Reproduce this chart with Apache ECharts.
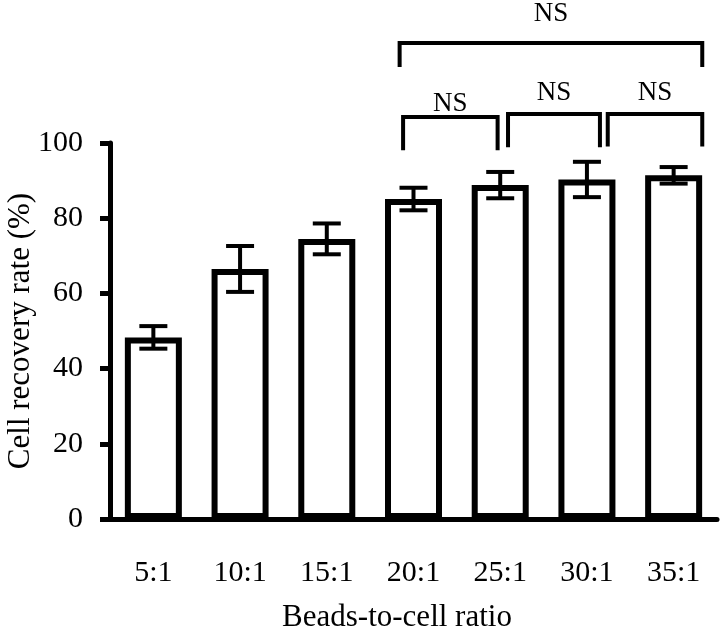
<!DOCTYPE html>
<html><head><meta charset="utf-8">
<script src="https://cdn.jsdelivr.net/npm/echarts@6/dist/echarts.min.js"></script>
<style>html,body{margin:0;padding:0;background:#fff}#c{width:720px;height:628px}</style>
</head><body><div id="c"></div>
<script>
const categories = ['5:1', '10:1', '15:1', '20:1', '25:1', '30:1', '35:1'];
const recoveryMean = [48.3, 66.5, 74.5, 85.1, 88.8, 90.3, 91.4];
const recoveryErr = [3.0, 6.1, 4.1, 3.0, 3.5, 4.7, 2.2];
const yTickValues = [0, 20, 40, 60, 80, 100];
// significance brackets (category index units for from/to, % units for heights)
const bracketFrom = [2.84, 2.88, 4.09, 5.24];
const bracketTo = [6.33, 3.97, 5.15, 6.33];
const bracketTop = [126.6, 106.9, 107.7, 107.7];
const bracketLegEnd = [120.2, 98.1, 98.9, 99.1];
const bracketLabelY = [134.3, 110.5, 113.3, 113.3];
const bracketLabels = ['NS', 'NS', 'NS', 'NS'];

const FONT = 'Liberation Serif, Times New Roman, serif';
const chart = echarts.init(document.getElementById('c'), null, {renderer: 'canvas'});

const errData = categories.map((c, i) => [i, recoveryMean[i] - recoveryErr[i], recoveryMean[i] + recoveryErr[i]]);
const bracketData = bracketFrom.map((f, i) => [i, bracketTop[i]]);

chart.setOption({
  animation: false,
  backgroundColor: '#fff',
  grid: {left: 110, right: 3, top: 143, bottom: 109, containLabel: false, outerBoundsMode: 'none'},
  xAxis: {
    type: 'category',
    data: categories,
    axisLine: {lineStyle: {color: '#000', width: 5}},
    axisTick: {alignWithLabel: true, length: 11, lineStyle: {color: '#000', width: 4}},
    axisLabel: {margin: 39, fontSize: 30, fontFamily: FONT, color: '#000'},
    name: 'Beads-to-cell ratio',
    nameLocation: 'middle',
    nameGap: 83,
    nameMoveOverlap: false,
    nameTextStyle: {fontSize: 31, fontFamily: FONT, color: '#000', padding: [0, 33, 0, 0]}
  },
  yAxis: {
    type: 'value',
    min: yTickValues[0],
    max: yTickValues[yTickValues.length - 1],
    interval: yTickValues[1] - yTickValues[0],
    axisLine: {show: true, lineStyle: {color: '#000', width: 5}},
    axisTick: {show: true, length: 10, lineStyle: {color: '#000', width: 5}},
    splitLine: {show: false},
    axisLabel: {margin: 27, fontSize: 30, fontFamily: FONT, color: '#000'},
    name: 'Cell recovery rate (%)',
    nameLocation: 'middle',
    nameGap: 74,
    nameMoveOverlap: false,
    nameTextStyle: {fontSize: 31, fontFamily: FONT, color: '#000'}
  },
  series: [
    {
      type: 'bar',
      data: recoveryMean,
      barWidth: 57,
      itemStyle: {color: '#fff', borderColor: '#000', borderWidth: 6},
      z: 2
    },
    {
      type: 'custom',
      data: errData,
      encode: {x: 0, y: [1, 2]},
      z: 3,
      renderItem: function (params, api) {
        const idx = api.value(0);
        const lo = api.coord([idx, api.value(1)]);
        const hi = api.coord([idx, api.value(2)]);
        const hw = 14;
        const st = {stroke: '#000', lineWidth: 4, fill: null};
        return {
          type: 'group',
          children: [
            {type: 'line', shape: {x1: lo[0], y1: lo[1], x2: hi[0], y2: hi[1]}, style: st},
            {type: 'line', shape: {x1: lo[0] - hw, y1: lo[1], x2: lo[0] + hw, y2: lo[1]}, style: st},
            {type: 'line', shape: {x1: hi[0] - hw, y1: hi[1], x2: hi[0] + hw, y2: hi[1]}, style: st}
          ]
        };
      }
    },
    {
      type: 'custom',
      data: bracketData,
      encode: {x: 0, y: 1},
      clip: false,
      z: 4,
      renderItem: function (params, api) {
        const i = params.dataIndex;
        const x0 = api.coord([0, 0])[0];
        const band = api.size([1, 0])[0];
        const xa = x0 + bracketFrom[i] * band;
        const xb = x0 + bracketTo[i] * band;
        const yTop = api.coord([0, bracketTop[i]])[1];
        const yLeg = api.coord([0, bracketLegEnd[i]])[1];
        const yLab = api.coord([0, bracketLabelY[i]])[1];
        return {
          type: 'group',
          children: [
            {type: 'polyline', shape: {points: [[xa, yLeg], [xa, yTop], [xb, yTop], [xb, yLeg]]},
             style: {stroke: '#000', lineWidth: 4, fill: null, lineJoin: 'miter'}},
            {type: 'text', x: (xa + xb) / 2, y: yLab,
             style: {text: bracketLabels[i], fill: '#000', font: '27px ' + FONT, align: 'center', verticalAlign: 'middle'}}
          ]
        };
      }
    }
  ]
});
</script></body></html>
